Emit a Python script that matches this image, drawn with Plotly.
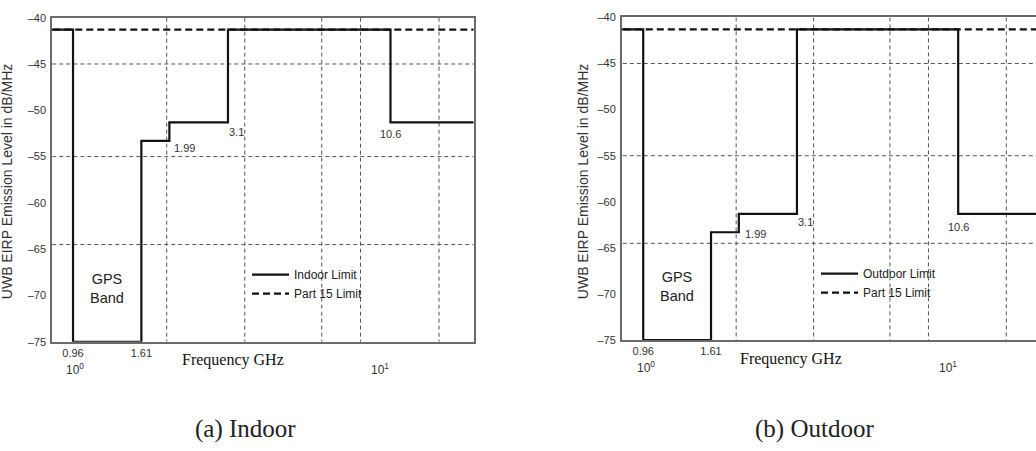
import numpy as np
import plotly.graph_objects as go

# FCC UWB emission masks: EIRP level (dBm/MHz) per frequency band (GHz)
band_edges = [0.96, 1.61, 1.99, 3.1, 10.6]
indoor_levels = [-41.3, -75.0, -53.3, -51.3, -41.3, -51.3]
outdoor_levels = [-41.3, -75.0, -63.3, -61.3, -41.3, -61.3]
part15_level = -41.3

# axis ticks and labels
y_ticks = [-40, -45, -50, -55, -60, -65, -70, -75]
x_tick_vals = [0.96, 1.61]
x_tick_text = ["0.96", "1.61"]
decade_vals = [1, 10]
decade_text = ["10<sup>0</sup>", "10<sup>1</sup>"]
edge_label_vals = [1.99, 3.1, 10.6]
edge_label_text = ["1.99", "3.1", "10.6"]

# dashed reference grid
grid_freqs = [1.95, 3.52, 6.3, 8.45, 15.3]
grid_levels = [-45, -55, -64.5]

Y_TOP, Y_BOTTOM = -40, -75
F_LO, F_HI = 0.7, 25.0

W, H = 1036, 451
SANS = "Liberation Sans, Arial, sans-serif"
SERIF = "Liberation Serif, Times New Roman, serif"


def px_x(p):
    return p / W


def px_y(p):
    return (H - p) / H


panels = [
    dict(levels=indoor_levels, name="Indoor Limit", caption="(a) Indoor",
         xa="x", ya="y", legend="legend",
         xdom=[52, 473.5], ydom=[12, 345], xrange=[-0.0868, 1.298],
         ytitle_x=7, xtitle_x=233, xtitle_y=364, decade_y=373,
         caption_x=245, legend_x=247, legend_y=261,
         label_shift=dict(d199=(3, -7), d31=(-1, -10), d106=(0, -12))),
    dict(levels=outdoor_levels, name="Outdoor Limit", caption="(b) Outdoor",
         xa="x2", ya="y2", legend="legend2",
         xdom=[621.7, 1036], ydom=[11.7, 343.3], xrange=[-0.089, 1.283],
         ytitle_x=583, xtitle_x=791, xtitle_y=363, decade_y=371,
         caption_x=814, legend_x=816, legend_y=260,
         label_shift=dict(d199=(4, -2), d31=(-1, -8), d106=(0, -13))),
]

fig = go.Figure()
annotations = []

grid_style = dict(color="#555555", width=1, dash="4px,3px")

for p in panels:
    xa, ya = p["xa"], p["ya"]

    # vertical grid lines
    gx, gy = [], []
    for f in grid_freqs:
        gx += [f, f, None]
        gy += [Y_TOP, Y_BOTTOM, None]
    fig.add_trace(go.Scatter(x=gx, y=gy, mode="lines", line=grid_style,
                             xaxis=xa, yaxis=ya, showlegend=False, hoverinfo="skip"))
    # horizontal grid lines
    hx, hy = [], []
    for lv in grid_levels:
        hx += [F_LO, F_HI, None]
        hy += [lv, lv, None]
    fig.add_trace(go.Scatter(x=hx, y=hy, mode="lines", line=grid_style,
                             xaxis=xa, yaxis=ya, showlegend=False, hoverinfo="skip"))

    # Part 15 limit
    fig.add_trace(go.Scatter(x=[F_LO, F_HI], y=[part15_level, part15_level],
                             mode="lines", name="Part 15 Limit",
                             line=dict(color="#111111", width=2.2, dash="7px,4px"),
                             xaxis=xa, yaxis=ya, legend=p["legend"]))

    # UWB mask as a step curve
    lv = p["levels"]
    sx = [F_LO] + band_edges + [F_HI]
    sy = lv + [lv[-1]]
    fig.add_trace(go.Scatter(x=sx, y=sy, mode="lines", line_shape="hv",
                             name=p["name"],
                             line=dict(color="#111111", width=2.2),
                             xaxis=xa, yaxis=ya, legend=p["legend"]))

    # edge labels inside the plot
    ls = p["label_shift"]
    label_y = [lv[2], lv[3], lv[5]]
    anchors = ["left", "left", "center"]
    shifts = [ls["d199"], ls["d31"], ls["d106"]]
    for f, txt, yv, anc, (dx, dy) in zip(edge_label_vals, edge_label_text,
                                         label_y, anchors, shifts):
        annotations.append(dict(x=np.log10(f), y=yv, xref=xa, yref=ya,
                                text=txt, showarrow=False, xanchor=anc,
                                yanchor="middle", xshift=dx, yshift=dy,
                                font=dict(family=SANS, size=11, color="#333333")))

    # GPS band label
    gps_center = np.sqrt(band_edges[0] * band_edges[1])
    annotations.append(dict(x=np.log10(gps_center), y=-69.2, xref=xa, yref=ya,
                            text="GPS<br>Band", showarrow=False,
                            font=dict(family=SANS, size=14.5, color="#222222")))

    # decade labels under the axis
    for f, txt in zip(decade_vals, decade_text):
        annotations.append(dict(x=np.log10(f), y=px_y(p["decade_y"]), xref=xa,
                                yref="paper", text=txt, showarrow=False,
                                xanchor="center", yanchor="middle", xshift=-3,
                                font=dict(family=SANS, size=12, color="#333333")))

    # axis titles
    annotations.append(dict(x=px_x(p["ytitle_x"]), y=px_y(181), xref="paper",
                            yref="paper", text="UWB EIRP Emission Level in dB/MHz",
                            textangle=-90, showarrow=False, xanchor="center",
                            yanchor="middle",
                            font=dict(family=SANS, size=14, color="#333333")))
    annotations.append(dict(x=px_x(p["xtitle_x"]), y=px_y(p["xtitle_y"]),
                            xref="paper", yref="paper", text="Frequency GHz",
                            showarrow=False, xanchor="center", yanchor="middle",
                            font=dict(family=SERIF, size=16, color="#111111")))
    # caption
    annotations.append(dict(x=px_x(p["caption_x"]), y=px_y(435), xref="paper",
                            yref="paper", text=p["caption"], showarrow=False,
                            xanchor="center", yanchor="middle",
                            font=dict(family=SERIF, size=25, color="#222222")))

axis_common = dict(showline=True, linecolor="#6a6a6a", linewidth=1.5,
                   showgrid=False, zeroline=False, ticks="",
                   tickfont=dict(family=SANS, size=11, color="#333333"))

layout_axes = {}
for i, p in enumerate(panels):
    sfx = "" if i == 0 else "2"
    layout_axes["xaxis" + sfx] = dict(
        axis_common, type="log", range=p["xrange"],
        domain=[px_x(p["xdom"][0]), px_x(p["xdom"][1])],
        tickvals=x_tick_vals, ticktext=x_tick_text, mirror=True,
        anchor="y" + sfx)
    layout_axes["yaxis" + sfx] = dict(
        axis_common, range=[Y_BOTTOM, Y_TOP],
        domain=[px_y(p["ydom"][1]), px_y(p["ydom"][0])],
        tickvals=y_ticks, ticktext=[("\u2013%d" % abs(v)) for v in y_ticks],
        mirror=(i == 0), anchor="x" + sfx, ticklabelstandoff=2)

legend_style = dict(bgcolor="rgba(0,0,0,0)", borderwidth=0,
                    font=dict(family=SANS, size=12, color="#222222"),
                    traceorder="reversed", xanchor="left", yanchor="top",
                    yref="paper", xref="paper", itemwidth=37)

fig.update_layout(
    width=W, height=H,
    margin=dict(l=0, r=0, t=0, b=0),
    paper_bgcolor="white", plot_bgcolor="white",
    showlegend=True,
    legend=dict(legend_style, x=px_x(panels[0]["legend_x"]),
                y=px_y(panels[0]["legend_y"])),
    legend2=dict(legend_style, x=px_x(panels[1]["legend_x"]),
                 y=px_y(panels[1]["legend_y"])),
    annotations=annotations,
    **layout_axes,
)

fig.write_html("out.html")
